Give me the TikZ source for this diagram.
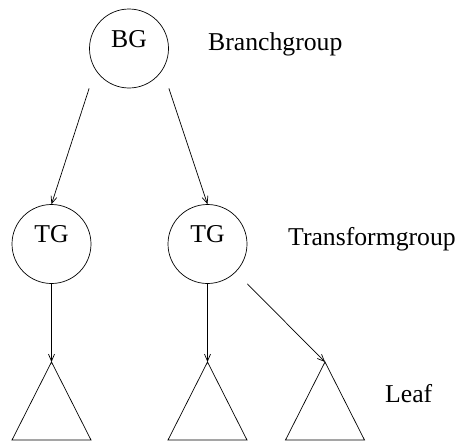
\documentclass[tikz,border=0pt]{standalone}
\usepackage{fontspec}
\setmainfont{Liberation Serif}
\usetikzlibrary{positioning, arrows.meta}

\begin{document}
\begin{tikzpicture}[
    x=1pt, y=-1pt,
    group/.style={circle, draw, minimum size=79pt, inner sep=0pt, text height=16pt, text depth=19pt},
    arrow/.style={-{Straight Barb[length=7pt, width=6pt]}, line width=0.7pt},
    leaf/.style={line width=0.7pt},
    every node/.style={font=\fontsize{25.7}{30}\selectfont},
    caption/.style={anchor=base west, inner sep=0pt}
    ]
    \useasboundingbox (0,0) rectangle (458,442);

    % Gruppen
    \node[group, line width=0.7pt] (BG) at (129,48.5) {BG};
    \node[group, line width=0.7pt] (TGlinks) at (51.5,244) {TG};
    \node[group, line width=0.7pt] (TGrechts) at (207.5,244) {TG};

    % Blaetter (Spitzen)
    \coordinate (LeafA) at (51.5,362);
    \coordinate (LeafB) at (207.5,362);
    \coordinate (LeafC) at (325,362);
    \foreach \l in {LeafA, LeafB, LeafC}
        \draw[leaf] (\l) -- ++(-39.5,78) -- ++(79,0) -- cycle;

    % Beschriftungen
    \node[caption] (BGtext) at (208,50) {Branchgroup};
    \node[caption] (TGtext) at (288,245) {Transformgroup};
    \node[caption] (Leaftext) at (385,402) {Leaf};

    % Verbindungen
    \draw[arrow] (BG.west |- BG.south) -- (TGlinks.north);
    \draw[arrow] (BG.east |- BG.south) -- (TGrechts.north);
    \draw[arrow] (TGlinks.south) -- (LeafA);
    \draw[arrow] (TGrechts.south) -- (LeafB);
    \draw[arrow] (TGrechts.east |- TGrechts.south) -- (LeafC);

\end{tikzpicture}
\end{document}
